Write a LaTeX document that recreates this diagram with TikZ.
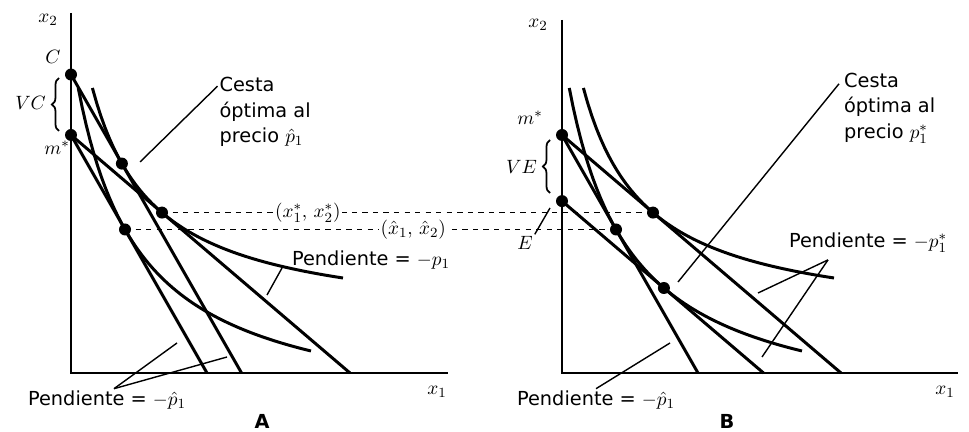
\documentclass[tikz,border=0pt]{standalone}
\usepackage{fontspec}
\setmainfont{DejaVu Sans}
\usetikzlibrary{decorations.pathreplacing}

\begin{document}
\begin{tikzpicture}[
    axis/.style={line width=1.4pt},
    budget/.style={line width=1.7pt},
    indif/.style={line width=1.7pt},
    leader/.style={line width=0.8pt},
    guide/.style={dashed, line width=0.6pt},
    bracket/.style={decorate, decoration={brace, amplitude=4pt}, line width=1pt},
    every node/.style={font=\fontsize{11}{14.5}\selectfont, inner sep=1pt},
  ]
  \useasboundingbox (-1.42,-1.18) rectangle (17.96,7.46);

  % panel A
  \draw[axis] (0,7.2) -- (0,0) -- (7.54,0);
  \node (x2A) at (-0.46,7.06) {$x_2$};
  \node (x1A) at (7.32,-0.38) {$x_1$};

  \coordinate (C) at (0,5.969);
  \coordinate (mA) at (0,4.76);
  \coordinate (a1) at (5.58,0);
  \coordinate (a2) at (2.72,0);
  \coordinate (a3) at (3.411,0);
  \coordinate (tC) at (1.018,4.188);
  \coordinate (xs) at (1.82,3.208);
  \coordinate (xh) at (1.08,2.87);

  \draw[budget] (mA) -- (a1);
  \draw[budget] (mA) -- (a2);
  \draw[budget] (C) -- (a3);
  \draw[indif] plot[domain=0.428:5.44, samples=60] (\x, {0.94+6.027/(\x+0.838)});
  \draw[indif] plot[domain=0.145:4.8, samples=60] (\x, {-1.008+8.594/(\x+1.136)});

  \foreach \p in {C, mA, tC, xs, xh}
    \fill (\p) circle (0.12);

  \node (Clab) at (-0.36,6.32) {$C$};
  \node (mAlab) at (-0.28,4.5) {$m^*$};
  \draw[bracket] (-0.24,4.84) -- (-0.24,5.9);
  \node[anchor=east] (VC) at (-0.46,5.4) {$VC$};

  \node[anchor=west, align=left] (cestaA) at (2.93,5.22) {Cesta\\óptima al\\precio $\hat{p}_1$};
  \coordinate (cA) at (1.38,4.22);
  \draw[leader] ([yshift=-0.22cm]cestaA.north west) -- (cA);

  \node[anchor=west] (slopeA) at (4.38,2.26) {Pendiente = $-p_1$};
  \coordinate (sA) at (3.92,1.56);
  \draw[leader] ([shift={(-0.16,-0.16)}]slopeA.west) -- (sA);

  \node[anchor=west] (slopehA) at (-0.9,-0.54) {Pendiente = $-\hat{p}_1$};
  \coordinate (shA1) at (2.12,0.6);
  \coordinate (shA2) at (3.12,0.32);
  \draw[leader] ([xshift=0.14cm]slopehA.north) -- (shA1);
  \draw[leader] ([xshift=0.14cm]slopehA.north) -- (shA2);

  \node (labA) at (3.82,-0.97) {\textbf{A}};

  % panel B
  \begin{scope}[xshift=9.82cm]
    \draw[axis] (0,7.06) -- (0,0) -- (7.92,0);
    \node (x2B) at (-0.48,6.96) {$x_2$};
    \node (x1B) at (7.66,-0.38) {$x_1$};

    \coordinate (mB) at (0,4.76);
    \coordinate (E) at (0,3.438);
    \coordinate (b1) at (5.58,0);
    \coordinate (b2) at (2.72,0);
    \coordinate (b3) at (4.03,0);
    \coordinate (ys) at (1.82,3.208);
    \coordinate (yh) at (1.08,2.87);
    \coordinate (tE) at (2.038,1.70);

    \draw[budget] (mB) -- (b1);
    \draw[budget] (mB) -- (b2);
    \draw[budget] (E) -- (b3);
    \draw[indif] plot[domain=0.428:5.44, samples=60] (\x, {0.94+6.027/(\x+0.838)});
    \draw[indif] plot[domain=0.145:4.8, samples=60] (\x, {-1.008+8.594/(\x+1.136)});

    \foreach \p in {mB, E, ys, yh, tE}
      \fill (\p) circle (0.12);

    \node (mBlab) at (-0.64,5.1) {$m^*$};
    \draw[bracket] (-0.24,3.6) -- (-0.24,4.66);
    \node[anchor=east] (VE) at (-0.46,4.13) {$VE$};

    \node (Elab) at (-0.74,2.6) {$E$};
    \coordinate (eB) at (-0.24,3.3);
    \draw[leader] (Elab.north east) -- (eB);

    \node[anchor=west, align=left] (cestaB) at (5.6,5.3) {Cesta\\óptima al\\precio $p_1^*$};
    \coordinate (cB) at (2.32,1.82);
    \draw[leader] ([shift={(-0.06,-0.26)}]cestaB.north west) -- (cB);

    \node[anchor=west] (slopeB) at (4.5,2.6) {Pendiente = $-p_1^*$};
    \coordinate (sB1) at (3.92,1.6);
    \coordinate (sB2) at (4.0,0.32);
    \draw[leader] ([shift={(0.82,-0.1)}]slopeB.south west) -- (sB1);
    \draw[leader] ([shift={(0.82,-0.1)}]slopeB.south west) -- (sB2);

    \node[anchor=west] (slopehB) at (-0.94,-0.54) {Pendiente = $-\hat{p}_1$};
    \coordinate (shB) at (2.16,0.6);
    \draw[leader] (slopehB.north) -- (shB);

    \node (labB) at (3.3,-0.97) {\textbf{B}};
  \end{scope}

  % dashed guides between panels
  \draw[guide] (xs) -- node[pos=0.297, fill=white] {$(x_1^*,\,x_2^*)$} (ys);
  \draw[guide] (xh) -- node[pos=0.587, fill=white] {$(\hat{x}_1,\,\hat{x}_2)$} (yh);
\end{tikzpicture}
\end{document}
